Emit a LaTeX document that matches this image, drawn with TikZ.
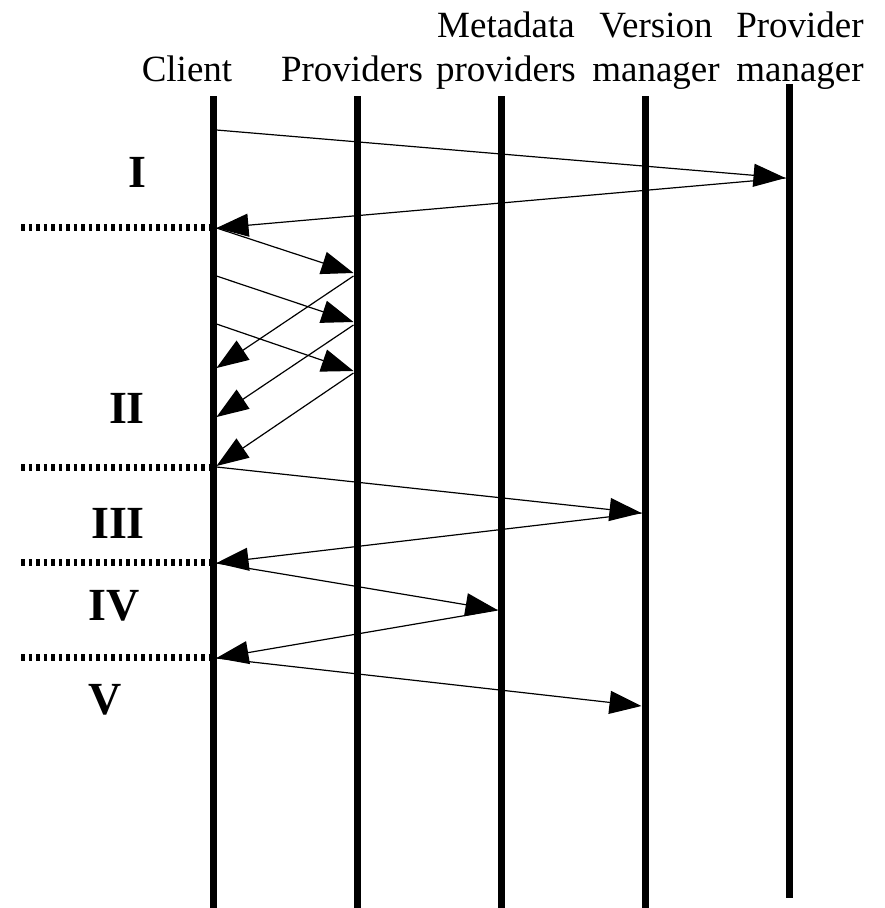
\documentclass[tikz,border=0pt]{standalone}
\usepackage{fontspec}
\setmainfont{Liberation Serif}
\usetikzlibrary{arrows.meta}
\begin{document}
\begin{tikzpicture}[x=1pt,y=-1pt,
  lifeline/.style={line width=7pt},
  msg/.style={line width=1.2pt,-{Triangle[length=32pt,width=23pt]}},
  phase/.style={line width=7pt,dash pattern=on 3.5pt off 4pt},
  head/.style={font=\fontsize{37}{44.5}\selectfont,align=center,inner sep=0pt,anchor=base},
  stagelabel/.style={font=\fontsize{46}{50}\selectfont\bfseries,inner sep=0pt,anchor=base}]
\useasboundingbox (0,0) rectangle (884,908);

% participants (base anchor sits on the last line)
\node[head] (hclient) at (187,81.5) {Client};
\node[head] (hprov)   at (352,81.5) {Providers};
\node[head] (hmeta)   at (506,81.5) {Metadata\\providers};
\node[head] (hver)    at (656,81.5) {Version\\manager};
\node[head] (hpm)     at (800,81.5) {Provider\\manager};

% lifelines
\coordinate (cT) at (213,96);  \coordinate (cB) at (213,908);
\coordinate (pT) at (357,96);  \coordinate (pB) at (357,908);
\coordinate (mT) at (501,96);  \coordinate (mB) at (501,908);
\coordinate (vT) at (645,96);  \coordinate (vB) at (645,908);
\coordinate (gT) at (789,84);  \coordinate (gB) at (789,898);
\foreach \l in {c,p,m,v,g} \draw[lifeline] (\l T) -- (\l B);

% phase separators
\foreach \n/\y in {1/227,2/467,3/562,4/657}{
  \coordinate (sL\n) at (21,\y);
  \coordinate (sR\n) at (210,\y);
  \draw[phase] (sL\n) -- (sR\n);
}

% phase labels
\node[stagelabel] (s1) at (137,187) {I};
\node[stagelabel] (s2) at (127,423) {II};
\node[stagelabel] (s3) at (118,538) {III};
\node[stagelabel] (s4) at (114,620) {IV};
\node[stagelabel] (s5) at (105,714) {V};

% message end points
\coordinate (c1)  at (216.5,130);
\coordinate (g1)  at (785.5,178);
\coordinate (c2)  at (216.5,228);
\coordinate (p3)  at (353.5,273);
\coordinate (c4)  at (216.5,276);
\coordinate (p4)  at (353.5,322);
\coordinate (c5)  at (216.5,324);
\coordinate (p5)  at (353.5,371);
\coordinate (p6)  at (353.5,276);
\coordinate (c6)  at (216.5,368);
\coordinate (p7)  at (353.5,325);
\coordinate (c7)  at (216.5,417);
\coordinate (p8)  at (353.5,373);
\coordinate (c8)  at (216.5,466);
\coordinate (c9)  at (216.5,467);
\coordinate (v9)  at (641.5,513);
\coordinate (c10) at (216.5,563);
\coordinate (m11) at (497.5,610);
\coordinate (c12) at (216.5,658);
\coordinate (v13) at (641.5,706);

% messages
\draw[msg] (c1) -- (g1);
\draw[msg] (g1) -- (c2);
\draw[msg] (c2) -- (p3);
\draw[msg] (c4) -- (p4);
\draw[msg] (c5) -- (p5);
\draw[msg] (p6) -- (c6);
\draw[msg] (p7) -- (c7);
\draw[msg] (p8) -- (c8);
\draw[msg] (c9) -- (v9);
\draw[msg] (v9) -- (c10);
\draw[msg] (c10) -- (m11);
\draw[msg] (m11) -- (c12);
\draw[msg] (c12) -- (v13);
\end{tikzpicture}
\end{document}
